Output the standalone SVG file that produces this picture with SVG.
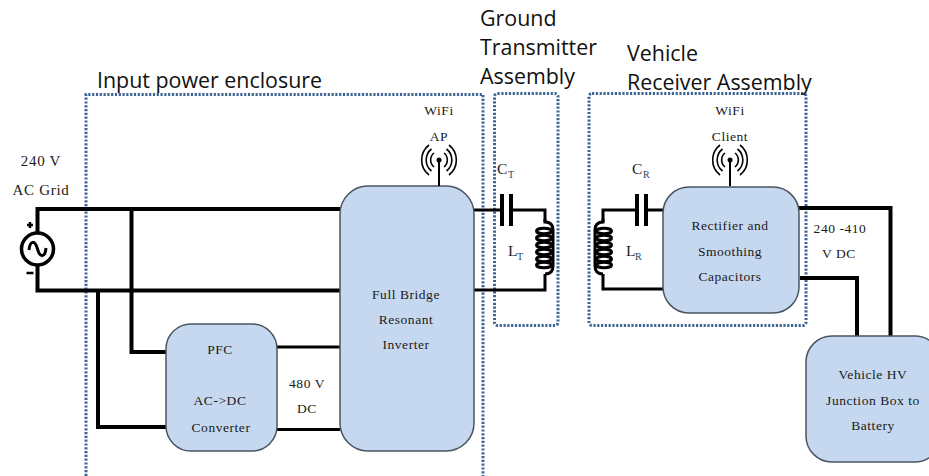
<svg xmlns="http://www.w3.org/2000/svg" width="929" height="476" viewBox="0 0 929 476">
<style>
.box{fill:#c6d8ef;stroke:#4a5560;stroke-width:1.5}
.w{fill:none;stroke:#000;stroke-width:4;stroke-linejoin:miter}
.t{fill:none;stroke:#000;stroke-width:3}
.n{fill:none;stroke:#000;stroke-width:2}
.d{fill:none;stroke:#3f6595;stroke-width:3;stroke-dasharray:2.2 1.6}
.l{font-family:"Liberation Serif",serif;font-size:13.5px;letter-spacing:.55px;fill:#1a1a1a;text-anchor:middle}
.b{font-size:15px;letter-spacing:.7px}
.c{font-family:"Liberation Serif",serif;font-size:15.5px;fill:#1a1a1a}
.s{font-family:"Liberation Serif",serif;font-size:10px;fill:#1f3f66}
.h{font-family:"Open Sans",sans-serif;font-size:21.4px;fill:#111}
</style>
<defs>
<g id="ant"><circle cx="0" cy="0" r="2.5" fill="#000"/><path class="n" d="M0 0V26"/>
<path fill="none" stroke="#000" stroke-width="1.6" d="M-5 -7A9 9 0 0 0 -5 7M-7.500 -11A14 14 0 0 0 -7.500 11M-10 -15A19 19 0 0 0 -10 15M5 -7A9 9 0 0 1 5 7M7.500 -11A14 14 0 0 1 7.500 11M10 -15A19 19 0 0 1 10 15"/></g>
<g id="coil"><path class="t" d="M0 0V3Q8 3 8 11V47Q8 55 0 55"/>
<ellipse cx="-1" cy="12" rx="7.500" ry="2.800" class="t"/><ellipse cx="-1" cy="19" rx="7.500" ry="2.800" class="t"/><ellipse cx="-1" cy="26" rx="7.500" ry="2.800" class="t"/><ellipse cx="-1" cy="33" rx="7.500" ry="2.800" class="t"/><ellipse cx="-1" cy="40" rx="7.500" ry="2.800" class="t"/><ellipse cx="-1" cy="46" rx="7.500" ry="2.800" class="t"/></g>
</defs>
<g id="enclosures">
<path class="d" d="M86 476V94.500H483V476"/>
<rect class="d" x="494.500" y="93.500" width="63.500" height="232" rx="3"/>
<rect class="d" x="589" y="93.500" width="217" height="232" rx="3"/>
</g>
<g id="connectors">
<path class="w" d="M340 209H37.500V233M37.500 265V290.500H340"/>
<path class="w" d="M131.500 209V352H166"/>
<path class="w" d="M98 290.500V427H166"/>
<path class="t" d="M277 347H340M277 429.500H340"/>
<path class="t" d="M474 210H502M511 210H545V222M474 290H545V274"/>
<path class="w" d="M502 194V226M511 194V226"/>
<use href="#coil" x="545" y="219"/>
<path class="t" d="M663 210H646M637 210H603V222M663 289H603V274"/>
<path class="w" d="M637 194V226M646 194V226"/>
<use href="#coil" transform="translate(603 219) scale(-1 1)"/>
<path class="w" d="M798 208H890.500V336M800 278H857V336"/>
</g>
<g id="source"><circle cx="37.500" cy="249" r="16" fill="#fff" stroke="#000" stroke-width="3.500"/>
<path class="t" d="M29 250C30 240 35 240 37.500 249S45 258 46 248"/>
<path d="M27 225H33M30 222V228M26.500 273H33.500" stroke="#000" stroke-width="2.500"/>
<text class="l b" x="41" y="166">240 V</text><text class="l b" x="41" y="195">AC Grid</text></g>
<g id="pfc"><rect class="box" x="166" y="324" width="111" height="127" rx="25"/>
<text class="l" x="220" y="354">PFC</text><text class="l" x="220" y="405">AC-&gt;DC</text><text class="l" x="221" y="432">Converter</text></g>
<text class="l" x="307" y="388">480 V</text><text class="l" x="307" y="413">DC</text>
<g id="inverter"><rect class="box" x="340" y="186" width="134" height="265" rx="28"/>
<text class="l" x="406" y="299">Full Bridge</text><text class="l" x="406" y="324">Resonant</text><text class="l" x="406" y="349">Inverter</text></g>
<g id="wifi-ap"><text class="l" x="439" y="115">WiFi</text><text class="l" x="439" y="141">AP</text><use href="#ant" x="439" y="160"/></g>
<g id="ct"><text class="c" x="497" y="174">C</text><text class="s" x="508" y="178">T</text></g>
<g id="lt"><text class="c" x="508" y="256">L</text><text class="s" x="517" y="260">T</text></g>
<g id="cr"><text class="c" x="632" y="174">C</text><text class="s" x="643" y="178">R</text></g>
<g id="lr"><text class="c" x="626" y="256">L</text><text class="s" x="635" y="260">R</text></g>
<g id="rectifier"><rect class="box" x="663" y="187" width="136" height="126" rx="26"/>
<text class="l" x="730" y="230">Rectifier and</text><text class="l" x="730" y="256">Smoothing</text><text class="l" x="730" y="281">Capacitors</text></g>
<g id="wifi-client"><text class="l" x="730" y="115">WiFi</text><text class="l" x="730" y="141">Client</text><use href="#ant" x="730" y="160"/></g>
<text class="l" x="840" y="233">240 -410</text><text class="l" x="839" y="258">V DC</text>
<g id="vehicle"><rect class="box" x="806" y="336" width="135" height="126" rx="26"/>
<text class="l" x="873" y="379">Vehicle HV</text><text class="l" x="873" y="405">Junction Box to</text><text class="l" x="873" y="430">Battery</text></g>
<g id="titles">
<text class="h" x="97" y="88">Input power enclosure</text>
<text class="h" x="480" y="26">Ground</text><text class="h" x="480" y="55">Transmitter</text><text class="h" x="480" y="84">Assembly</text>
<text class="h" x="627" y="61">Vehicle</text><text class="h" x="627" y="90">Receiver Assembly</text>
</g>
</svg>
